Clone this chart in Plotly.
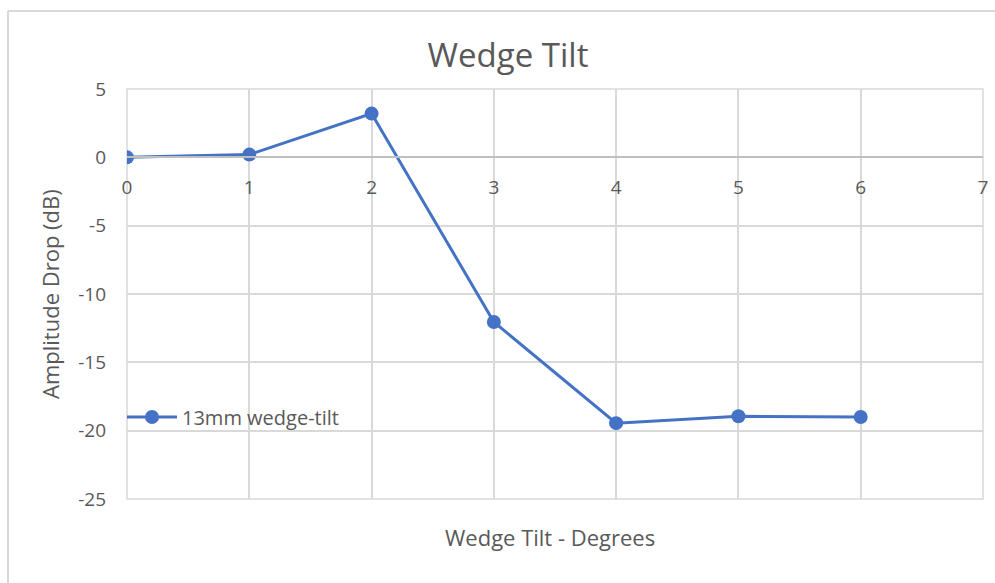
import plotly.graph_objects as go

# ---- data ----
tilt_degrees = [0, 1, 2, 3, 4, 5, 6]
amplitude_drop_db = [0.0, 0.2, 3.2, -12.05, -19.45, -18.95, -19.0]
series_name = "13mm wedge-tilt"
x_ticks = [0, 1, 2, 3, 4, 5, 6, 7]
y_ticks = [5, 0, -5, -10, -15, -20, -25]

# ---- layout geometry (pixels) ----
W, H = 995, 583
L, R, T, B = 127, 12, 89, 84
pw, ph = W - L - R, H - T - B
X_RANGE = [0, 7]
Y_RANGE = [-25, 5]

def px_x(p):
    return (p - L) / pw

def px_y(p):
    return (H - B - p) / ph

TXT = "#595959"
GRID = "#d9d9d9"
BLUE = "#4472C4"
FONT = "Open Sans"

fig = go.Figure()
fig.add_trace(go.Scatter(
    x=tilt_degrees, y=amplitude_drop_db, name=series_name,
    mode="lines+markers",
    line=dict(color=BLUE, width=3),
    marker=dict(color=BLUE, size=14),
    showlegend=True,
))

zero_pos = (0 - Y_RANGE[0]) / (Y_RANGE[1] - Y_RANGE[0])

fig.update_layout(
    width=W, height=H,
    margin=dict(l=L, r=R, t=T, b=B, autoexpand=False),
    paper_bgcolor="white", plot_bgcolor="white",
    font=dict(family=FONT, color=TXT, size=20),
    title=dict(text="Wedge Tilt", x=508 / W, xanchor="center",
               y=1 - 55 / H, yanchor="middle",
               font=dict(family=FONT, size=33, color=TXT)),
    xaxis=dict(range=X_RANGE, tickvals=x_ticks, ticktext=[str(v) for v in x_ticks],
               showgrid=True, gridcolor=GRID, automargin=False,
               gridwidth=1.5, zeroline=False, showline=True, linecolor="#bfbfbf",
               linewidth=1.5, anchor="free", position=zero_pos,
               ticks="", ticklabelstandoff=13,
               tickfont=dict(size=19, color=TXT, family=FONT)),
    yaxis=dict(range=Y_RANGE, tickvals=y_ticks, ticktext=[str(v) for v in y_ticks],
               showgrid=True, gridcolor=GRID, automargin=False,
               gridwidth=1.5, zeroline=False, showline=False, ticks="",
               ticklabelstandoff=20,
               tickfont=dict(size=19, color=TXT, family=FONT)),
    legend=dict(x=px_x(122), xanchor="left", y=px_y(417), yanchor="middle",
                bgcolor="rgba(0,0,0,0)", font=dict(size=20, color=TXT, family=FONT),
                itemwidth=50),
    showlegend=True,
)

# plot-area frame (grid edges)
fig.add_shape(type="rect", xref="paper", yref="paper", x0=0, x1=1, y0=0, y1=1,
              line=dict(color=GRID, width=1.5), layer="below")
# outer chart border (cut off at right/bottom)
fig.add_shape(type="line", xref="paper", yref="paper",
              x0=px_x(8), x1=px_x(W + 10), y0=px_y(11), y1=px_y(11),
              line=dict(color=GRID, width=2))
fig.add_shape(type="line", xref="paper", yref="paper",
              x0=px_x(8), x1=px_x(8), y0=px_y(11), y1=px_y(H + 10),
              line=dict(color=GRID, width=2))

fig.add_annotation(text="Wedge Tilt - Degrees", xref="paper", yref="paper",
                   x=px_x(550), y=px_y(537), xanchor="center", yanchor="middle",
                   showarrow=False, font=dict(size=22, color=TXT, family=FONT))
fig.add_annotation(text="Amplitude Drop (dB)", xref="paper", yref="paper",
                   x=px_x(50), y=px_y(294), xanchor="center", yanchor="middle",
                   textangle=-90, showarrow=False,
                   font=dict(size=22, color=TXT, family=FONT))

fig.write_html("out.html", config={"displayModeBar": False},
               post_script="document.body.style.margin='0';document.body.style.overflow='hidden';")
